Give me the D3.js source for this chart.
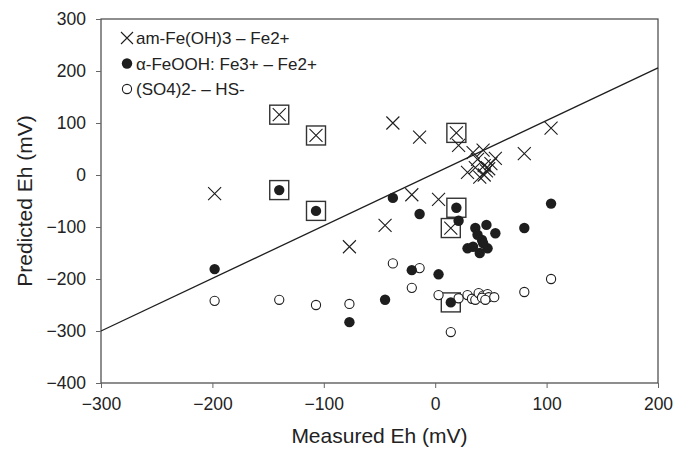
<!DOCTYPE html>
<html>
<head>
<meta charset="utf-8">
<script src="https://cdn.jsdelivr.net/npm/d3@7"></script>
<style>
  body { margin: 0; background: #fff; }
  text { font-family: "Liberation Sans", Arial, sans-serif; fill: #222; }
</style>
</head>
<body>
<script>
var width = 675;
var height = 455;
var padding = { top: 19, right: 17, bottom: 72, left: 101 };

// measured Eh, predicted Eh (mV)
var feOH3 = [[-198,-36],[-140,116],[-107,76],[-38,100],[-14,73],[-45,-97],[-77,-138],[-21,-38],[3,-47],
  [19,81],[21,57],[14,-102],[80,41],[104,90],[34,43],[43,48],[54,32],[38,30],[29,5],[40,-4],
  [46,8],[44,18],[48,12],[36,14],[44,0],[50,22]];
var feOOH = [[-198,-181],[-140,-29],[-107,-69],[-38,-44],[-14,-75],[19,-63],[21,-88],[104,-55],[80,-102],
  [36,-102],[46,-96],[54,-112],[42,-125],[29,-141],[34,-138],[40,-150],[47,-141],[43,-131],[38,-115],
  [3,-191],[-21,-183],[-45,-240],[-77,-283],[14,-245]];
var so4 = [[-198,-242],[-140,-240],[-107,-250],[-77,-248],[-38,-170],[-14,-179],[-21,-217],[3,-231],
  [14,-302],[80,-225],[104,-200],[21,-237],[29,-231],[33,-238],[36,-240],[39,-227],[43,-232],
  [47,-229],[48,-235],[53,-235],[42,-236],[45,-240]];
var boxed = [[-140,116],[-107,76],[-140,-29],[-107,-69],[19,81],[19,-63],[14,-102],[14,-245]];
var refLine = [[-300,-300],[200,206]];
var legendLabels = ["am-Fe(OH)3 \u2013 Fe2+", "\u03b1-FeOOH: Fe3+ \u2013 Fe2+", "(SO4)2- \u2013 HS-"];
var xTicks = [-300,-200,-100,0,100,200];
var yTicks = [-400,-300,-200,-100,0,100,200,300];

var svg = d3.select("body").append("svg")
    .attr("width", width)
    .attr("height", height);

var xScale = d3.scaleLinear()
    .domain([-300, 200])
    .range([padding.left, width - padding.right]);
var yScale = d3.scaleLinear()
    .domain([-400, 300])
    .range([height - padding.bottom, padding.top]);

var ink = "#1e1e1e";

// -- frame --
svg.append("rect")
  .attr("x", padding.left)
  .attr("y", padding.top)
  .attr("width", width - padding.left - padding.right)
  .attr("height", height - padding.top - padding.bottom)
  .attr("fill", "none")
  .attr("stroke", "#444")
  .attr("stroke-width", 1.2);

// -- axes --
var xAxis = d3.axisBottom(xScale).tickValues(xTicks).tickSize(5).tickPadding(8).tickFormat(d3.format("d"));
var yAxis = d3.axisLeft(yScale).tickValues(yTicks).tickSize(5).tickPadding(10).tickFormat(d3.format("d"));

var gx = svg.append("g")
  .attr("transform", "translate(0," + (height - padding.bottom) + ")")
  .call(xAxis);
var gy = svg.append("g")
  .attr("transform", "translate(" + padding.left + ",0)")
  .call(yAxis);
[gx, gy].forEach(function(g) {
  g.select(".domain").remove();
  g.selectAll("line").attr("stroke", "#666");
  g.selectAll("text").attr("font-size", 17.5).attr("fill", "#222")
    .style("font-family", "Liberation Sans, Arial, sans-serif");
});
gx.selectAll("text").attr("dy", "0.8em");

svg.append("text")
  .attr("x", (padding.left + width - padding.right) / 2)
  .attr("y", 443)
  .attr("text-anchor", "middle")
  .attr("font-size", 21)
  .text("Measured Eh (mV)");
svg.append("text")
  .attr("transform", "translate(32," + ((padding.top + height - padding.bottom) / 2) + ") rotate(-90)")
  .attr("text-anchor", "middle")
  .attr("font-size", 21)
  .text("Predicted Eh (mV)");

// -- reference line --
svg.append("path")
  .attr("d", d3.line().x(function(d) { return xScale(d[0]); }).y(function(d) { return yScale(d[1]); })(refLine))
  .attr("stroke", ink)
  .attr("stroke-width", 1.3)
  .attr("fill", "none");

// -- boxes --
var bs = 19;
svg.selectAll(".box")
  .data(boxed)
  .enter()
  .append("rect")
  .attr("class", "box")
  .attr("x", function(d) { return xScale(d[0]) - bs / 2; })
  .attr("y", function(d) { return yScale(d[1]) - bs / 2; })
  .attr("width", bs)
  .attr("height", bs)
  .attr("fill", "none")
  .attr("stroke", "#333")
  .attr("stroke-width", 1.4);

// -- markers --
function crossPath(s) {
  return "M" + (-s) + "," + (-s) + "L" + s + "," + s + "M" + (-s) + "," + s + "L" + s + "," + (-s);
}

svg.selectAll(".so4")
  .data(so4)
  .enter()
  .append("circle")
  .attr("class", "so4")
  .attr("cx", function(d) { return xScale(d[0]); })
  .attr("cy", function(d) { return yScale(d[1]); })
  .attr("r", 4.6)
  .attr("fill", "#fff")
  .attr("stroke", ink)
  .attr("stroke-width", 1.1);

svg.selectAll(".feooh")
  .data(feOOH)
  .enter()
  .append("circle")
  .attr("class", "feooh")
  .attr("cx", function(d) { return xScale(d[0]); })
  .attr("cy", function(d) { return yScale(d[1]); })
  .attr("r", 5.2)
  .attr("fill", ink);

svg.selectAll(".feoh3")
  .data(feOH3)
  .enter()
  .append("path")
  .attr("class", "feoh3")
  .attr("d", crossPath(6.5))
  .attr("transform", function(d) { return "translate(" + xScale(d[0]) + "," + yScale(d[1]) + ")"; })
  .attr("stroke", ink)
  .attr("stroke-width", 1.1)
  .attr("fill", "none");

// -- legend --
var legend = svg.selectAll(".legend")
  .data(legendLabels)
  .enter()
  .append("g")
  .attr("class", "legend")
  .attr("transform", function(d, i) { return "translate(127," + (38 + i * 25.5) + ")"; });

legend.each(function(d, i) {
  var g = d3.select(this);
  if (i === 0) {
    g.append("path").attr("d", crossPath(6)).attr("stroke", ink).attr("stroke-width", 1.1);
  } else if (i === 1) {
    g.append("circle").attr("r", 5.2).attr("fill", ink);
  } else {
    g.append("circle").attr("r", 4.6).attr("fill", "#fff").attr("stroke", ink).attr("stroke-width", 1.1);
  }
  g.append("text")
    .attr("x", 9)
    .attr("y", 6)
    .attr("font-size", 17)
    .text(d);
});
</script>
</body>
</html>
